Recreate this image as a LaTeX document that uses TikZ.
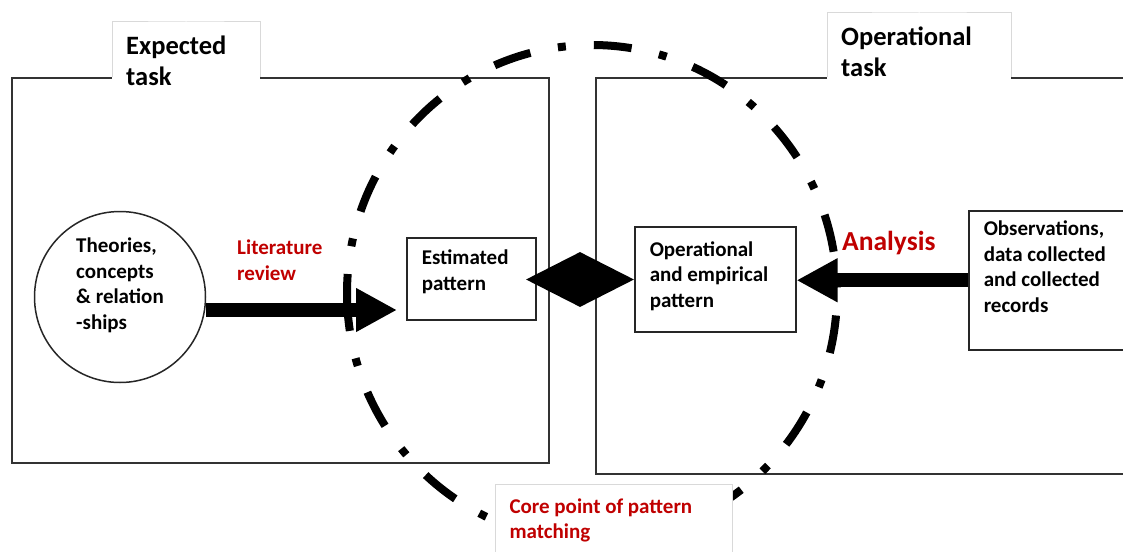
\documentclass[tikz,border=0pt]{standalone}
\usepackage{fontspec}
\setmainfont{Carlito}
\usepackage{tikz}
\usetikzlibrary{shapes.geometric,arrows.meta}
\definecolor{deepred}{RGB}{192,0,0}
\definecolor{tabgray}{RGB}{217,217,217}

\begin{document}
\begin{tikzpicture}[x=1pt,y=-1pt,
    taskframe/.style={draw=black!80,line width=1.8pt,anchor=north west,inner sep=0pt},
    tasktab/.style={fill=white,anchor=north west,inner sep=14pt,align=flush left,font=\fontsize{26.5}{31}\selectfont\bfseries},
    patternbox/.style={draw=black!85,line width=1.5pt,anchor=north west,inner xsep=15pt,inner ysep=0pt,align=flush left,font=\fontsize{21}{25.5}\selectfont\bfseries},
    redtext/.style={text=deepred,align=flush left,inner sep=0pt,font=\fontsize{21}{25.5}\selectfont\bfseries},
    bigarrow/.style={line width=14pt,-{Triangle[length=41pt,width=41pt]}},
    matchring/.style={line width=8pt,dash pattern=on 38pt off 28pt on 8pt off 28pt}]
            \useasboundingbox (0,0) rectangle (1123,551);
            \clip (0,0) rectangle (1123,551);
            %左右两个大框
            \node[taskframe,minimum width=537pt,minimum height=385pt] (expframe) at (11,77) {};
            \node[taskframe,minimum width=545pt,minimum height=396pt] (opframe) at (595,77) {};
            %框上的标签
            \node[tasktab,text width=120pt] (exptab) at (112,22) {Expected\\task};
            \draw[tabgray,line width=1pt] (exptab.west |- expframe.north) |- (exptab.north) -| (exptab.east |- expframe.north);
            \node[tasktab,text width=156pt] (optab) at (827,13) {Operational\\task};
            \draw[tabgray,line width=1pt] (optab.west |- opframe.north) |- (optab.north) -| (optab.east |- opframe.north);
            %圆和三个方框
            \node[circle,draw=black!85,line width=1.5pt,minimum size=171pt,inner sep=0pt,align=flush left,
                  text depth=27pt,font=\fontsize{21}{25.5}\selectfont\bfseries] (theory) at (120,297)
                  {Theories,\\concepts\\\& relation\\-ships};
            \node[patternbox,text width=99pt,minimum height=82pt,text depth=43pt] (est) at (406,237) {Estimated\\pattern};
            \node[patternbox,text width=131pt,minimum height=105pt,text depth=61pt] (op) at (634,226) {Operational\\and empirical\\pattern};
            \node[patternbox,text width=140pt,minimum height=139pt,text depth=104pt] (obs) at (968,210) {Observations,\\data collected\\and collected\\records};
            %红色说明文字
            \node[redtext,anchor=north west] (litlabel) at (237,240) {Literature\\review};
            \node[redtext,anchor=base west,font=\fontsize{27.5}{31}\selectfont\bfseries] (analabel) at (842,250) {Analysis};
            %粗箭头
            \draw[bigarrow,shorten >=9pt] (theory.east |- 0,310) -- (est.west |- 0,310);
            \draw[bigarrow] (obs.west) -- (op.east |- obs.west);
            %中间的黑色菱形
            \node[diamond,fill=black,minimum width=108pt,minimum height=55pt,inner sep=0pt] (match) at (580,279.5) {};
            %点划线椭圆
            \coordinate (ringc) at (592,293);
            \draw[matchring] (ringc) ++(-245pt,0pt) arc[start angle=180,end angle=540,x radius=245pt,y radius=248pt];
            %底部标签
            \node[tasktab,draw=tabgray,line width=1pt,text width=209pt,text=deepred,
                  font=\fontsize{21}{25.5}\selectfont\bfseries] (corelabel) at (495,484) {Core point of pattern\\matching};
\end{tikzpicture}
\end{document}
